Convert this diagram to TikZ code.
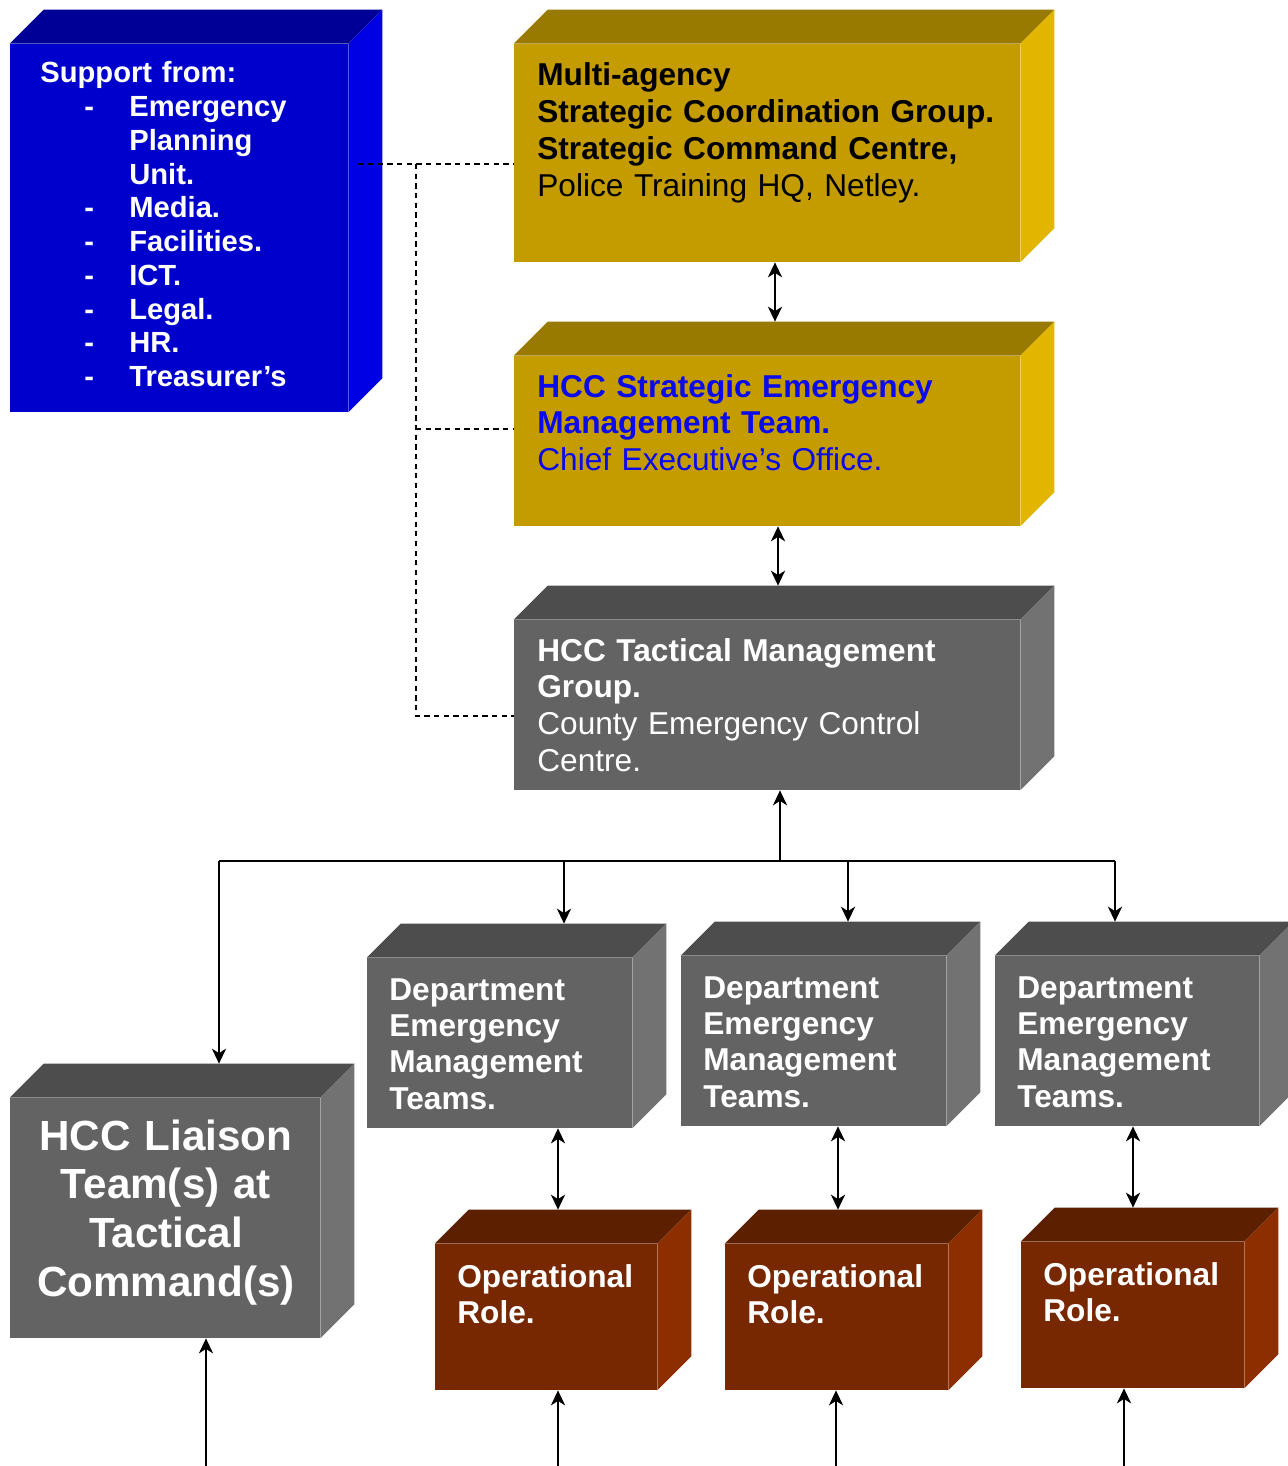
\documentclass[tikz,border=0pt]{standalone}
\usepackage{fontspec}
\setmainfont{Liberation Sans}
\usetikzlibrary{fit,arrows.meta}

\definecolor{bleuF}{RGB}{0,0,204}
\definecolor{bleuH}{RGB}{0,0,150}
\definecolor{bleuC}{RGB}{0,0,228}
\definecolor{orF}{RGB}{196,156,0}
\definecolor{orH}{RGB}{153,122,0}
\definecolor{orC}{RGB}{225,181,0}
\definecolor{grisF}{RGB}{99,99,99}
\definecolor{grisH}{RGB}{77,77,77}
\definecolor{grisC}{RGB}{114,114,114}
\definecolor{brunF}{RGB}{120,40,0}
\definecolor{brunH}{RGB}{92,31,0}
\definecolor{brunC}{RGB}{140,46,0}
\definecolor{texteBleu}{RGB}{10,10,235}

% dessus et cote d'un bloc : noeud, couleur dessus, couleur cote
\newcommand\Faces[3]{%
  \fill[#2] (#1.north west) -- ++(\Prof,-\Prof) -- ([shift={(\Prof,-\Prof)}]#1.north east) -- (#1.north east) -- cycle;
  \fill[#3] (#1.north east) -- ++(\Prof,-\Prof) -- ([shift={(\Prof,-\Prof)}]#1.south east) -- (#1.south east) -- cycle;
  \coordinate (#1haut) at ([shift={(0,-\Prof)}]#1.north);}

\begin{document}
\begin{tikzpicture}[x=0.02cm,y=-0.02cm,>={Stealth[length=8.5pt,width=8pt,inset=2.5pt]}]
% Styles
\tikzstyle{face}=[inner sep=0pt, draw=none]
\tikzstyle{texte}=[anchor=base west, inner sep=0pt, align=left, text=white]
\tikzstyle{fleche}=[->, line width=1.4pt]
\tikzstyle{doublefleche}=[<->, line width=1.4pt]
\tikzstyle{trait}=[line width=1.4pt]
\tikzstyle{tirets}=[line width=0.8pt, dash pattern=on 3pt off 2.5pt]
% Dimensions
\def\Prof{34}
\useasboundingbox (0,0) rectangle (1287,1466);
% Blocs (faces avant)
\node[face, fill=bleuF, fit={(10,44) (348,412)}] (soutien) {};
\node[face, fill=orF, fit={(514,44) (1020,262)}] (multi) {};
\node[face, fill=orF, fit={(514,356) (1020,526)}] (hcc) {};
\node[face, fill=grisF, fit={(514,620) (1020,790)}] (tact) {};
\node[face, fill=grisF, fit={(367,958) (632,1128)}] (dept1) {};
\node[face, fill=grisF, fit={(681,956) (946,1126)}] (dept2) {};
\node[face, fill=grisF, fit={(995,956) (1259,1126)}] (dept3) {};
\node[face, fill=grisF, fit={(10,1098) (320,1338)}] (liaison) {};
\node[face, fill=brunF, fit={(435,1244) (657,1390)}] (op1) {};
\node[face, fill=brunF, fit={(725,1244) (948,1390)}] (op2) {};
\node[face, fill=brunF, fit={(1021,1242) (1244,1388)}] (op3) {};
% Dessus et cotes
\Faces{soutien}{bleuH}{bleuC}
\Faces{multi}{orH}{orC}
\Faces{hcc}{orH}{orC}
\Faces{tact}{grisH}{grisC}
\Faces{dept1}{grisH}{grisC}
\Faces{dept2}{grisH}{grisC}
\Faces{dept3}{grisH}{grisC}
\Faces{liaison}{grisH}{grisC}
\Faces{op1}{brunH}{brunC}
\Faces{op2}{brunH}{brunC}
\Faces{op3}{brunH}{brunC}
% Textes
\node[texte, text width=6.6cm, font=\fontsize{16.6}{19.2}\selectfont\bfseries] (soutienT) at (40,83) {Support from:\\
\hspace*{0.88cm}\makebox[0.9cm][l]{-}Emergency\\
\hspace*{1.78cm}Planning\\
\hspace*{1.78cm}Unit.\\
\hspace*{0.88cm}\makebox[0.9cm][l]{-}Media.\\
\hspace*{0.88cm}\makebox[0.9cm][l]{-}Facilities.\\
\hspace*{0.88cm}\makebox[0.9cm][l]{-}ICT.\\
\hspace*{0.88cm}\makebox[0.9cm][l]{-}Legal.\\
\hspace*{0.88cm}\makebox[0.9cm][l]{-}HR.\\
\hspace*{0.88cm}\makebox[0.9cm][l]{-}Treasurer’s};
\node[texte, text=black, text width=9.6cm, font=\fontsize{18}{20.9}\selectfont] (multiT) at (537,86) {\textbf{Multi-agency}\\
\textbf{Strategic Coordination Group.}\\
\textbf{Strategic Command Centre,}\\
Police Training HQ, Netley.};
\node[texte, text=texteBleu, text width=9.6cm, font=\fontsize{18}{20.9}\selectfont] (hccT) at (537,397) {\textbf{HCC Strategic Emergency}\\
\textbf{Management Team.}\\
Chief Executive’s Office.};
\node[texte, text width=9.6cm, font=\fontsize{18}{20.9}\selectfont] (tactT) at (537,661) {\textbf{HCC Tactical Management}\\
\textbf{Group.}\\
County Emergency Control\\
Centre.};
\node[texte, text width=5.2cm, font=\fontsize{18}{20.7}\selectfont\bfseries] (dept1T) at (389,1000) {Department\\Emergency\\Management\\Teams.};
\node[texte, text width=5.2cm, font=\fontsize{18}{20.7}\selectfont\bfseries] (dept2T) at (703,998) {Department\\Emergency\\Management\\Teams.};
\node[texte, text width=5.2cm, font=\fontsize{18}{20.7}\selectfont\bfseries] (dept3T) at (1017,998) {Department\\Emergency\\Management\\Teams.};
\node[texte, anchor=base, align=center, text width=6.2cm, font=\fontsize{24}{27.8}\selectfont\bfseries] (liaisonT) at (166,1150) {HCC Liaison\\Team(s) at\\Tactical\\Command(s)};
\node[texte, text width=4.2cm, font=\fontsize{18}{20.5}\selectfont\bfseries] (op1T) at (457,1287) {Operational\\Role.};
\node[texte, text width=4.2cm, font=\fontsize{18}{20.5}\selectfont\bfseries] (op2T) at (747,1287) {Operational\\Role.};
\node[texte, text width=4.2cm, font=\fontsize{18}{20.5}\selectfont\bfseries] (op3T) at (1043,1285) {Operational\\Role.};
% Liaisons en tirets
\coordinate (jonction) at (416,164);
\coordinate (jonction2) at (416,429);
\coordinate (jonction3) at (416,716);
\draw[tirets] ([xshift=0.2cm]soutien.east |- jonction) -- (multi.west |- jonction);
\draw[tirets] (jonction) -- (jonction3) -- (tact.west |- jonction3);
\draw[tirets] (jonction2) -- (hcc.west |- jonction2);
% Fleches
\draw[doublefleche] (multi.south -| 775,0) -- (hcchaut -| 775,0);
\draw[doublefleche] (hcc.south -| 778,0) -- (tacthaut -| 778,0);
\coordinate (busG) at (219,861);
\coordinate (busD) at (1115,861);
\draw[trait] (busG) -- (busD);
\draw[fleche] (busG -| 780,0) -- (tact.south -| 780,0);
\draw[fleche] (busG) -- (liaisonhaut -| busG);
\draw[fleche] (busG -| 564,0) -- (dept1haut -| 564,0);
\draw[fleche] (busG -| 848,0) -- (dept2haut -| 848,0);
\draw[fleche] (busD) -- (dept3haut -| busD);
\draw[doublefleche] (dept1.south -| 558,0) -- (op1haut -| 558,0);
\draw[doublefleche] (dept2.south -| 838,0) -- (op2haut -| 838,0);
\draw[doublefleche] (dept3.south -| 1133,0) -- (op3haut -| 1133,0);
\coordinate (entreeL) at (206,1466);
\coordinate (entree1) at (558,1466);
\coordinate (entree2) at (836,1466);
\coordinate (entree3) at (1124,1466);
\draw[fleche] (entreeL) -- (liaison.south -| entreeL);
\draw[fleche] (entree1) -- (op1.south -| entree1);
\draw[fleche] (entree2) -- (op2.south -| entree2);
\draw[fleche] (entree3) -- (op3.south -| entree3);
\end{tikzpicture}
\end{document}
